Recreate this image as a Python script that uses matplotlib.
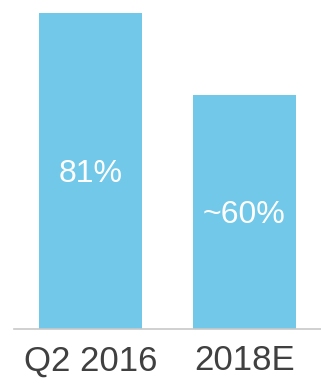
import matplotlib
matplotlib.use("Agg")
import matplotlib.pyplot as plt

categories = ["Q2 2016", "2018E"]
values = [81, 60]
bar_labels = ["81%", "~60%"]

plt.rcParams['font.family'] = ['Liberation Sans', 'DejaVu Sans']

fig = plt.figure(figsize=(3.21, 3.83), dpi=100)
ax = fig.add_axes([14/321, 54/383, 1 - 14/321, 1 - 54/383])
x = list(range(len(categories)))
bars = ax.bar(x, values, width=0.67, color='#72C8E8')
ax.set_xlim(-0.497, 1.497)
ax.set_ylim(0, 84.4)
for spine in ['top', 'right', 'left']:
    ax.spines[spine].set_visible(False)
ax.spines['bottom'].set_color('#c8c8c8')
ax.spines['bottom'].set_linewidth(1.2)
ax.set_yticks([])
ax.set_xticks(x)
ax.set_xticklabels(categories, fontsize=25, color='#404040')
ax.tick_params(axis='x', length=0, pad=11)
label_y = [37.7, 27.2]
for xi, ly, lab in zip(x, label_y, bar_labels):
    ax.text(xi, ly, lab, ha='center', va='baseline', color='white', fontsize=23)
fig.savefig('out.png', dpi=100)
